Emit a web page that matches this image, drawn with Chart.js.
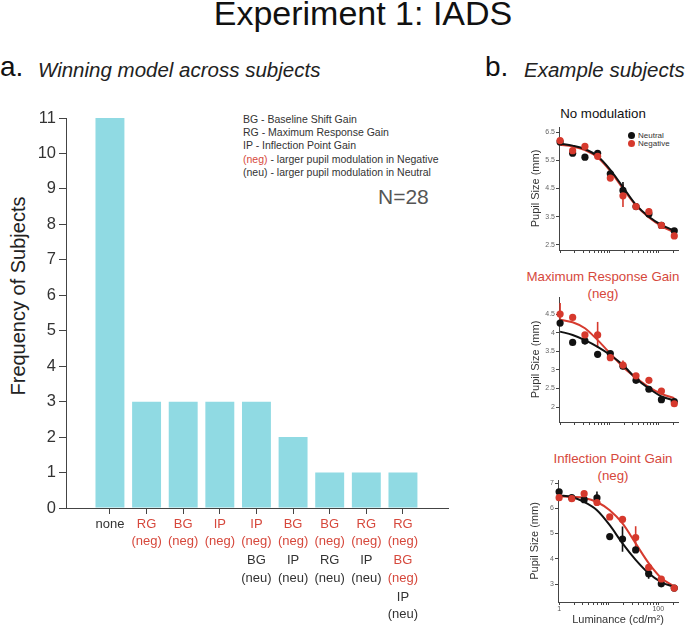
<!DOCTYPE html>
<html>
<head>
<meta charset="utf-8">
<script src="https://cdn.jsdelivr.net/npm/chart.js@4.4.0/dist/chart.umd.min.js"></script>
<style>
  body { margin: 0; width: 685px; height: 627px; position: relative; overflow: hidden; background: #fff;
         font-family: "Liberation Sans", Arial, Helvetica, sans-serif; color: #222; }
  .abs { position: absolute; white-space: nowrap; }
  .box { position: absolute; }
  #title { left: 0; width: 726px; text-align: center; top: -4px; font-size: 34px; line-height: 34px; color: #111; }
  .plabel { font-size: 28px; line-height: 28px; top: 53px; color: #111; }
  .psub { font-size: 20.5px; line-height: 20.5px; top: 60px; font-style: italic; color: #222; }
  #notes { left: 243px; top: 113px; font-size: 10.5px; line-height: 13.2px; color: #333; }
  #nsub { left: 378px; top: 186px; font-size: 21px; line-height: 21px; color: #555; }
  #ytitle { left: 18px; top: 296px; font-size: 20px; line-height: 20px; color: #222;
            transform: translate(-50%, -50%) rotate(-90deg); }
  .ptitle { width: 220px; text-align: center; font-size: 13.3px; line-height: 17px; }
  .red { color: #d6483c; }
  .leg { left: 628px; font-size: 8px; line-height: 8px; color: #333; }
  .dot { display: inline-block; width: 7px; height: 7px; border-radius: 50%; vertical-align: middle; margin-right: 3px; }
  #main { left: 0; top: 100px; width: 460px; height: 527px; }
  #p1 { left: 519px; top: 120px; width: 166px; height: 140px; }
  #p2 { left: 519px; top: 290px; width: 166px; height: 142px; }
  #p3 { left: 518px; top: 473px; width: 167px; height: 154px; }
</style>
</head>
<body>
<div class="abs" id="title">Experiment 1: IADS</div>
<div class="abs plabel" style="left:0">a.</div>
<div class="abs psub" style="left:38px">Winning model across subjects</div>
<div class="abs plabel" style="left:485px">b.</div>
<div class="abs psub" style="left:524px">Example subjects</div>

<div class="abs" id="notes">
  BG - Baseline Shift Gain<br>
  RG - Maximum Response Gain<br>
  IP - Inflection Point Gain<br>
  <span class="red">(neg)</span> - larger pupil modulation in Negative<br>
  (neu) - larger pupil modulation in Neutral
</div>
<div class="abs" id="nsub">N=28</div>
<div class="abs" id="ytitle">Frequency of Subjects</div>

<div class="abs ptitle" style="left:493px; top:105px; color:#111">No modulation</div>
<div class="abs ptitle red" style="left:493px; top:268px">Maximum Response Gain<br>(neg)</div>
<div class="abs ptitle red" style="left:503px; top:450px">Inflection Point Gain<br>(neg)</div>

<div class="abs leg" style="top:132px"><span class="dot" style="background:#111"></span>Neutral</div>
<div class="abs leg" style="top:140px"><span class="dot" style="background:#d6392d"></span>Negative</div>

<div class="box" id="main"><canvas id="barChart"></canvas></div>
<div class="box" id="p1"><canvas id="c1"></canvas></div>
<div class="box" id="p2"><canvas id="c2"></canvas></div>
<div class="box" id="p3"><canvas id="c3"></canvas></div>

<script>
// ---- panel a: winning model per subject ----
const models = [
  [],
  [['RG', 'neg']],
  [['BG', 'neg']],
  [['IP', 'neg']],
  [['IP', 'neg'], ['BG', 'neu']],
  [['BG', 'neg'], ['IP', 'neu']],
  [['BG', 'neg'], ['RG', 'neu']],
  [['RG', 'neg'], ['IP', 'neu']],
  [['RG', 'neg'], ['BG', 'neg'], ['IP', 'neu']]
];
const subjectCounts = [11, 3, 3, 3, 3, 2, 1, 1, 1];
const countTicks = [0, 1, 2, 3, 4, 5, 6, 7, 8, 9, 10, 11];

// ---- panel b: example subjects ----
const luminance = [1, 1.8, 3.2, 5.8, 10.5, 19, 35, 64, 115, 210];
const lumTicks = [1, 2, 3, 4, 5, 6, 7, 8, 9, 10, 20, 30, 40, 50, 60, 70, 80, 90, 100, 200];
const lumTickLabels = [1, 100];

// no modulation
const noModNeutral = [6.15, 5.75, 5.61, 5.75, 5.02, 4.43, 3.86, 3.60, 3.19, 3.00];
const noModNegative = [6.20, 5.84, 5.99, 5.64, 4.87, 4.24, 3.86, 3.68, 3.19, 2.82];
const noModNeutralErr = [0, 0.05, 0, 0.06, 0.05, 0.3, 0, 0, 0, 0];
const noModNegativeErr = [0.07, 0, 0.1, 0.08, 0.06, 0.4, 0.05, 0.12, 0, 0];
const noModNeutralFit = [6.09, 6.02, 5.90, 5.64, 5.16, 4.55, 3.92, 3.50, 3.21, 3.00];
const noModNegativeFit = [6.05, 5.99, 5.86, 5.60, 5.12, 4.50, 3.90, 3.47, 3.17, 2.95];
const noModTicks = [2.5, 3.5, 4.5, 5.5, 6.5];

// maximum response gain (neg)
const rgNeutral = [4.26, 3.74, 3.78, 3.42, 3.44, 3.10, 2.72, 2.48, 2.20, 2.15];
const rgNegative = [4.50, 4.41, 3.94, 3.94, 3.33, 3.13, 2.84, 2.72, 2.43, 2.09];
const rgNeutralErr = [0, 0, 0.1, 0, 0, 0, 0, 0, 0, 0];
const rgNegativeErr = [0.3, 0, 0, 0.35, 0, 0.12, 0, 0, 0, 0];
const rgNeutralFit = [4.03, 3.94, 3.80, 3.62, 3.40, 3.13, 2.77, 2.50, 2.29, 2.18];
const rgNegativeFit = [4.35, 4.28, 4.12, 3.80, 3.44, 3.08, 2.79, 2.54, 2.36, 2.24];
const rgTicks = [2, 2.5, 3, 3.5, 4, 4.5];

// inflection point gain (neg)
const ipNeutral = [6.65, 6.42, 6.34, 6.41, 4.88, 4.78, 4.35, 3.41, 3.01, 2.84];
const ipNegative = [6.42, 6.38, 6.58, 6.23, 5.66, 5.56, 4.84, 3.66, 3.20, 2.84];
const ipNeutralErr = [0, 0, 0, 0.25, 0.1, 0.5, 0.1, 0.2, 0, 0];
const ipNegativeErr = [0, 0, 0, 0, 0.1, 0, 0.45, 0, 0, 0];
const ipNeutralFit = [6.51, 6.45, 6.25, 5.92, 5.33, 4.61, 3.96, 3.43, 3.08, 2.88];
const ipNegativeFit = [6.48, 6.45, 6.41, 6.25, 5.92, 5.40, 4.61, 3.83, 3.24, 2.91];
const ipTicks = [3, 4, 5, 6, 7];

const RED = '#d6483c';
const DOT_RED = '#d6392d';
const DARK = '#333';
const AXIS = '#444';

Chart.defaults.font.family = '"Liberation Sans", Arial, Helvetica, sans-serif';
Chart.defaults.animation = false;

// labels under the bars, coloured by direction
const modelLabels = {
  id: 'modelLabels',
  afterDraw(chart) {
    const xs = chart.scales.x;
    const ctx = chart.ctx;
    ctx.save();
    ctx.font = '13px "Liberation Sans", Arial, sans-serif';
    ctx.textAlign = 'center';
    ctx.textBaseline = 'middle';
    models.forEach((parts, i) => {
      const x = xs.getPixelForValue(i);
      const y0 = xs.top + 16;
      if (!parts.length) {
        ctx.fillStyle = DARK;
        ctx.fillText('none', x, y0);
        return;
      }
      parts.forEach((p, k) => {
        ctx.fillStyle = p[1] === 'neg' ? RED : DARK;
        ctx.fillText(p[0], x, y0 + k * 36.7);
        ctx.fillText('(' + p[1] + ')', x, y0 + k * 36.7 + 17.3);
      });
    });
    ctx.restore();
  }
};

new Chart(document.getElementById('barChart'), {
  type: 'bar',
  data: {
    datasets: [{
      data: subjectCounts.map((c, i) => ({ x: i, y: c })),
      backgroundColor: '#90dae3',
      borderWidth: 0,
      categoryPercentage: 1,
      barPercentage: 0.79
    }]
  },
  options: {
    responsive: true,
    maintainAspectRatio: false,
    layout: { padding: { top: 18, right: 12, left: 0, bottom: 0 } },
    plugins: { legend: { display: false }, tooltip: { enabled: false } },
    scales: {
      x: {
        type: 'linear',
        min: -1.2,
        max: 9.23,
        offset: false,
        afterBuildTicks: s => { s.ticks = models.map((m, i) => ({ value: i })); },
        afterFit: s => { s.height = 119; },
        ticks: { callback: () => '', autoSkip: false, maxRotation: 0 },
        grid: { display: true, drawOnChartArea: false, offset: false, tickLength: 6, color: AXIS },
        border: { color: AXIS, width: 1 }
      },
      y: {
        min: 0,
        max: 11,
        afterBuildTicks: s => { s.ticks = countTicks.map(v => ({ value: v })); },
        afterFit: s => { s.width = 66; },
        ticks: { font: { size: 16.5 }, color: DARK, padding: 3 },
        grid: { display: true, drawOnChartArea: false, tickLength: 7, color: AXIS },
        border: { color: AXIS, width: 1 }
      }
    }
  },
  plugins: [modelLabels]
});

// vertical error bars for the example subjects
const errorBars = {
  id: 'errorBars',
  beforeDatasetsDraw(chart) {
    const ctx = chart.ctx, xs = chart.scales.x, ys = chart.scales.y;
    chart.data.datasets.forEach(ds => {
      if (!ds.errors) return;
      ctx.save();
      ctx.strokeStyle = ds.backgroundColor;
      ctx.lineWidth = 1.6;
      ds.data.forEach((pt, i) => {
        const e = ds.errors[i];
        if (!e) return;
        const x = xs.getPixelForValue(pt.x);
        ctx.beginPath();
        ctx.moveTo(x, ys.getPixelForValue(pt.y - e));
        ctx.lineTo(x, ys.getPixelForValue(pt.y + e));
        ctx.stroke();
      });
      ctx.restore();
    });
  }
};

function pts(ys) { return luminance.map((x, i) => ({ x: x, y: ys[i] })); }

function makePanel(id, p) {
  new Chart(document.getElementById(id), {
    type: 'scatter',
    data: {
      datasets: [
        { data: pts(p.neg), errors: p.negErr, backgroundColor: DOT_RED, pointRadius: 3.6, pointBorderWidth: 0, order: 0 },
        { data: pts(p.neu), errors: p.neuErr, backgroundColor: '#111', pointRadius: 3.6, pointBorderWidth: 0, order: 1 },
        { data: pts(p.neuFit), showLine: true, borderColor: '#111', borderWidth: 2, pointRadius: 0,
          cubicInterpolationMode: 'monotone', order: 2 },
        { data: pts(p.negFit), showLine: true, borderColor: '#d63b2f', borderWidth: 2, pointRadius: 0,
          cubicInterpolationMode: 'monotone', order: 3 }
      ]
    },
    options: {
      responsive: true,
      maintainAspectRatio: false,
      clip: false,
      layout: { padding: { top: 7, right: 7, left: 0, bottom: 0 } },
      plugins: { legend: { display: false }, tooltip: { enabled: false } },
      scales: {
        x: {
          type: 'logarithmic',
          min: 0.95,
          max: 250,
          afterBuildTicks: s => { s.ticks = lumTicks.map(v => ({ value: v })); },
          afterFit: s => { s.height = p.xHeight; },
          ticks: {
            autoSkip: false, maxRotation: 0, padding: 0,
            font: { size: 7 }, color: '#555',
            callback: v => (p.showX && lumTickLabels.includes(v)) ? String(v) : ''
          },
          title: {
            display: p.showX, text: 'Luminance (cd/m²)', color: DARK,
            font: { size: 11 }, padding: { top: 0, bottom: 0 }
          },
          grid: { display: true, drawOnChartArea: false, tickLength: 3, color: AXIS },
          border: { color: AXIS, width: 1 }
        },
        y: {
          min: p.min,
          max: p.max,
          afterBuildTicks: s => { s.ticks = p.ticks.map(v => ({ value: v })); },
          afterFit: s => { s.width = 40; },
          ticks: { font: { size: 7 }, color: '#666', padding: 1, callback: v => String(v) },
          title: {
            display: true, text: 'Pupil Size (mm)', color: DARK,
            font: { size: 11 }, padding: { top: 10, bottom: 0 }
          },
          grid: { display: true, drawOnChartArea: false, tickLength: 3, color: AXIS },
          border: { color: AXIS, width: 1 }
        }
      }
    },
    plugins: [errorBars]
  });
}

makePanel('c1', {
  neu: noModNeutral, neg: noModNegative, neuErr: noModNeutralErr, negErr: noModNegativeErr,
  neuFit: noModNeutralFit, negFit: noModNegativeFit, ticks: noModTicks,
  min: 2.32, max: 6.68, xHeight: 10, showX: false
});
makePanel('c2', {
  neu: rgNeutral, neg: rgNegative, neuErr: rgNeutralErr, negErr: rgNegativeErr,
  neuFit: rgNeutralFit, negFit: rgNegativeFit, ticks: rgTicks,
  min: 1.6, max: 4.96, xHeight: 10, showX: false
});
makePanel('c3', {
  neu: ipNeutral, neg: ipNegative, neuErr: ipNeutralErr, negErr: ipNegativeErr,
  neuFit: ipNeutralFit, negFit: ipNegativeFit, ticks: ipTicks,
  min: 2.29, max: 7.12, xHeight: 25, showX: true
});
</script>
</body>
</html>
